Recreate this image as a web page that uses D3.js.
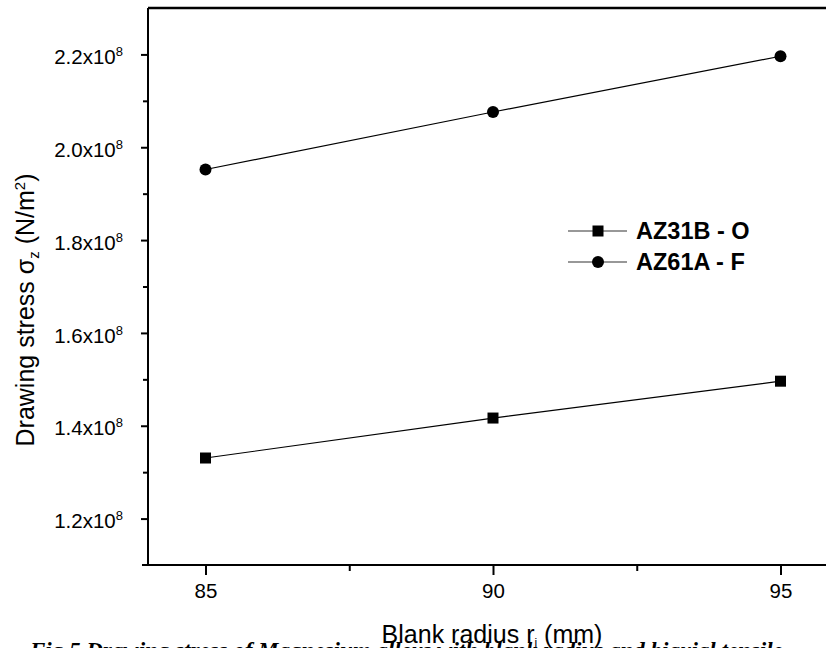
<!DOCTYPE html>
<html>
<head>
<meta charset="utf-8">
<script src="https://cdn.jsdelivr.net/npm/d3@7"></script>
<style>
  body { margin: 0; background: #fff; }
  svg { display: block; font-family: Arial, "Liberation Sans", sans-serif; }
  .axis path, .axis line { stroke: #000; stroke-width: 2; }
  .axis text { font-size: 20.5px; fill: #000; }
</style>
</head>
<body>
<div id="chart"></div>
<script>
// Data
const radius = [85, 90, 95];
const az31b = [1.3305e8, 1.4166e8, 1.496e8];
const az61a = [1.952e8, 2.076e8, 2.196e8];
const seriesNames = ["AZ31B - O", "AZ61A - F"];

const xMajor = [85, 90, 95];
const xMinor = [87.5, 92.5];
const yMajor = [1.2e8, 1.4e8, 1.6e8, 1.8e8, 2.0e8, 2.2e8];
const yMinor = [1.3e8, 1.5e8, 1.7e8, 1.9e8, 2.1e8];

const width = 826;
const height = 648;
const plot = { left: 148, top: 8, bottom: 565 };

const svg = d3.select("#chart").append("svg")
  .attr("width", width)
  .attr("height", height);

svg.append("rect").attr("width", width).attr("height", height).attr("fill", "#fff");

// Scales - the frame runs off the right edge of the picture
const x = d3.scaleLinear().domain([84, 96]).range([plot.left, plot.left + 12 * 57.5]);
const y = d3.scaleLinear().domain([1.1e8, 2.3e8]).range([plot.bottom, plot.top]);

// Top border
svg.append("line")
  .attr("x1", plot.left).attr("x2", width)
  .attr("y1", plot.top).attr("y2", plot.top)
  .attr("stroke", "#000").attr("stroke-width", 2.5);

// X axis, majors then minors
svg.append("g")
  .attr("class", "axis")
  .attr("transform", `translate(0,${plot.bottom})`)
  .call(d3.axisBottom(x).tickValues(xMajor).tickSize(10).tickSizeOuter(0).tickPadding(8))
  .call((g) => g.select(".domain").attr("d", `M${plot.left - 6},0H${width}`));

svg.append("g")
  .attr("class", "axis")
  .attr("transform", `translate(0,${plot.bottom})`)
  .call(d3.axisBottom(x).tickValues(xMinor).tickSize(6).tickFormat(""))
  .call((g) => g.select(".domain").remove());

// Y axis, majors with x10^n labels
const yAxisG = svg.append("g")
  .attr("class", "axis")
  .attr("transform", `translate(${plot.left},0)`)
  .call(d3.axisLeft(y).tickValues(yMajor).tickSize(7).tickSizeOuter(0).tickPadding(18))
  .call((g) => g.select(".domain").attr("d", `M0,${plot.bottom + 1}V${plot.top}`));

yAxisG.selectAll(".tick text").each(function (d) {
  const t = d3.select(this).text("").attr("dy", "0.45em");
  t.append("tspan").text((d / 1e8).toFixed(1) + "x10");
  t.append("tspan").attr("dy", -8).style("font-size", "13px").text("8");
});

svg.append("g")
  .attr("class", "axis")
  .attr("transform", `translate(${plot.left},0)`)
  .call(d3.axisLeft(y).tickValues(yMinor).tickSize(5).tickFormat(""))
  .call((g) => g.select(".domain").remove());

// Lines and markers
const line = d3.line()
  .x((d) => x(d[0]))
  .y((d) => y(d[1]));

const pts31 = radius.map((r, i) => [r, az31b[i]]);
const pts61 = radius.map((r, i) => [r, az61a[i]]);

svg.append("path").datum(pts31).attr("d", line)
  .attr("fill", "none").attr("stroke", "#000").attr("stroke-width", 1.2);
svg.append("path").datum(pts61).attr("d", line)
  .attr("fill", "none").attr("stroke", "#000").attr("stroke-width", 1.2);

const sq = 11;
svg.selectAll(".sq").data(pts31).enter().append("rect")
  .attr("x", (d) => x(d[0]) - sq / 2)
  .attr("y", (d) => y(d[1]) - sq / 2)
  .attr("width", sq).attr("height", sq)
  .attr("fill", "#000");

svg.selectAll(".dot").data(pts61).enter().append("circle")
  .attr("cx", (d) => x(d[0]))
  .attr("cy", (d) => y(d[1]))
  .attr("r", 6)
  .attr("fill", "#000");

// Legend
const legend = svg.append("g").attr("transform", "translate(568,231)");
seriesNames.forEach((name, i) => {
  const g = legend.append("g").attr("transform", `translate(0,${i * 31})`);
  g.append("line").attr("x1", 0).attr("x2", 59).attr("y1", 0).attr("y2", 0)
    .attr("stroke", "#333").attr("stroke-width", 1.2);
  if (i === 0) {
    g.append("rect").attr("x", 30 - sq / 2).attr("y", -sq / 2)
      .attr("width", sq).attr("height", sq).attr("fill", "#000");
  } else {
    g.append("circle").attr("cx", 30).attr("cy", 0).attr("r", 6).attr("fill", "#000");
  }
  g.append("text")
    .attr("x", 68).attr("y", 8)
    .style("font-size", "23.5px").style("font-weight", "bold")
    .text(name);
});

// Axis titles (sub/superscript shifts in px so the baseline comes back)
const yTitle = svg.append("text")
  .attr("transform", `translate(34,${(168 + 452) / 2}) rotate(-90)`)
  .attr("text-anchor", "middle")
  .style("font-size", "25px");
yTitle.append("tspan").text("Drawing stress σ");
yTitle.append("tspan").attr("dy", 5).style("font-size", "15px").text("z");
yTitle.append("tspan").attr("dy", -5).text(" (N/m");
yTitle.append("tspan").attr("dy", -9).style("font-size", "15px").text("2");
yTitle.append("tspan").attr("dy", 9).text(")");

// Caption, mostly cut off below the picture
svg.append("text")
  .attr("x", 30).attr("y", 658)
  .style("font-family", "'Liberation Serif', 'Times New Roman', serif")
  .style("font-size", "23px").style("font-weight", "bold").style("font-style", "italic")
  .text("Fig.5 Drawing stress of Magnesium alloys with blank radius and biaxial tensile");

const xTitle = svg.append("text")
  .attr("x", 492).attr("y", 643)
  .attr("text-anchor", "middle")
  .style("font-size", "25px");
xTitle.append("tspan").text("Blank radius  r");
xTitle.append("tspan").attr("dy", 4).style("font-size", "12px").text("i");
xTitle.append("tspan").attr("dy", -4).text(" (mm)");
</script>
</body>
</html>
